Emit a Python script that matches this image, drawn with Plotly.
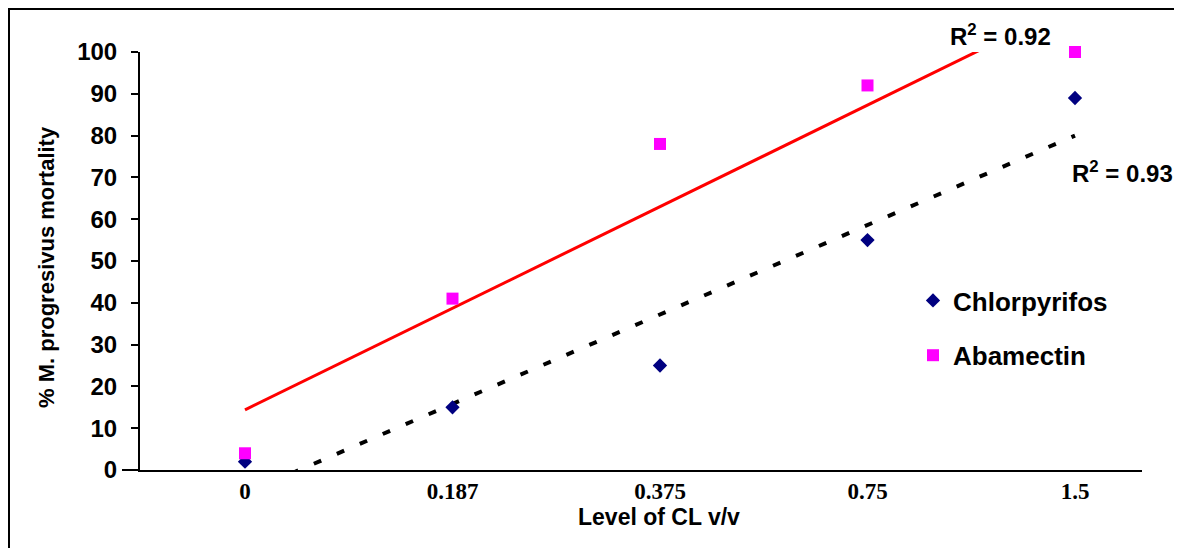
import numpy as np
import plotly.graph_objects as go

# ---- data ----
levels = ["0", "0.187", "0.375", "0.75", "1.5"]          # tick labels (level of CL v/v)
positions = [1, 2, 3, 4, 5]                               # category positions
chlorpyrifos = [2, 15, 25, 55, 89]                        # % mortality
abamectin = [4, 41, 78, 92, 100]                          # % mortality
r2_labels = {"Abamectin": "0.92", "Chlorpyrifos": "0.93"}
y_ticks = list(range(0, 101, 10))

# page offset (body margin) and plot geometry in page pixels
OFF = 8
W, H = 1182 - OFF, 548 - OFF
L, R, T, B = 140, 1142, 52, 470          # plot area in page pixels
def px(x):
    return (x - L) / (R - L)
def py(y):
    return (B - y) / (B - T)

AR = "Arial, Liberation Sans, sans-serif"
TM = "Times New Roman, Liberation Serif, serif"

fig = go.Figure()

# linear trendlines fitted from the data
xs = np.linspace(positions[0], positions[-1], 200)
a_fit = np.polyval(np.polyfit(positions, abamectin, 1), xs)
c_fit = np.polyval(np.polyfit(positions, chlorpyrifos, 1), xs)

fig.add_trace(go.Scatter(x=xs, y=a_fit, mode="lines",
                         line=dict(color="#FF0000", width=3),
                         showlegend=False, hoverinfo="skip"))
fig.add_trace(go.Scatter(x=xs, y=c_fit, mode="lines",
                         line=dict(color="#000000", width=4, dash="8px,17px"),
                         showlegend=False, hoverinfo="skip"))

fig.add_trace(go.Scatter(x=positions, y=chlorpyrifos, mode="markers",
                         name="Chlorpyrifos", legendgroup="c",
                         marker=dict(symbol="diamond", size=11, color="#000080"),
                         cliponaxis=False))
fig.add_trace(go.Scatter(x=positions, y=abamectin, mode="markers",
                         name="Abamectin", legendgroup="a",
                         marker=dict(symbol="square", size=12, color="#FF00FF"),
                         cliponaxis=False))

def note(text, x, y, size, angle=0):
    return dict(text=text, xref="paper", yref="paper", x=px(x), y=py(y),
                xanchor="center", yanchor="middle", textangle=angle,
                showarrow=False,
                font=dict(family=AR, size=size, color="black", weight="bold"))

fig.update_layout(
    width=W, height=H,
    margin=dict(l=L - OFF, r=W - (R - OFF), t=T - OFF, b=H - (B - OFF), autoexpand=False),
    paper_bgcolor="white", plot_bgcolor="white",
    showlegend=True,
    legend=dict(x=px(913), y=py(277), xanchor="left", yanchor="top",
                font=dict(family=AR, size=26, color="black", weight="bold"),
                tracegroupgap=18, traceorder="grouped",
                bgcolor="rgba(0,0,0,0)", borderwidth=0),
    xaxis=dict(range=[(L - 37.5) / 207.5, (R - 37.5) / 207.5],
               tickvals=positions, ticktext=levels,
               tickfont=dict(family=TM, size=23, color="black", weight="bold"),
               showline=True, linecolor="black", linewidth=2,
               ticks="", ticklabelstandoff=-1,
               showgrid=False, zeroline=False),
    yaxis=dict(range=[0, 100], tickvals=y_ticks,
               tickfont=dict(family=AR, size=24, color="black", weight="bold"),
               showline=True, linecolor="black", linewidth=2,
               ticks="outside", ticklen=7, tickwidth=2, tickcolor="black",
               ticklabelstandoff=9,
               showgrid=False, zeroline=False),
    shapes=[
        dict(type="rect", xref="paper", yref="paper",
             x0=px(9), x1=px(1176), y0=py(560), y1=py(9),
             line=dict(color="black", width=2), layer="below"),
        dict(type="line", xref="paper", yref="paper",
             x0=px(122), x1=0, y0=0, y1=0,
             line=dict(color="black", width=2)),
    ],
    annotations=[
        note("Level of CL v/v", 659, 517, 23),
        note("% M. progresivus mortality", 46, 267, 22, -90),
        note("R<sup>2</sup> = " + r2_labels["Abamectin"], 1000, 35, 24),
        note("R<sup>2</sup> = " + r2_labels["Chlorpyrifos"], 1122, 172, 24),
    ],
)

fig.write_html("out.html")
